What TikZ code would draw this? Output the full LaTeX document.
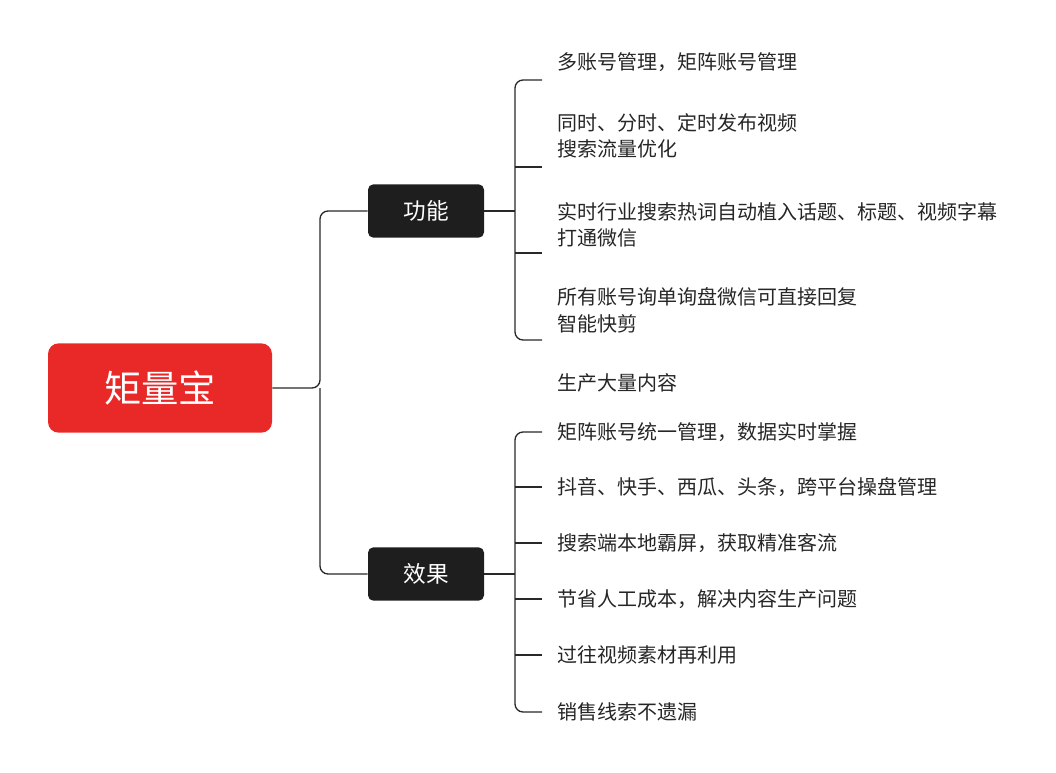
\documentclass[tikz,border=0pt]{standalone}
\usepackage{fontspec}
\setmainfont{Noto Sans CJK SC}
\usetikzlibrary{positioning}
\definecolor{rootred}{RGB}{233,40,40}
\definecolor{boxdark}{RGB}{30,30,30}
\definecolor{linegray}{RGB}{40,40,40}
\tikzset{
  rootbox/.style={draw=none,fill=rootred,rounded corners=8pt,minimum width=168pt,minimum height=67pt,text=white,font=\fontsize{28}{30}\selectfont},
  catbox/.style={draw=none,fill=boxdark,rounded corners=4pt,minimum width=87pt,minimum height=40pt,text=white,font=\fontsize{17}{19}\selectfont},
  item/.style={anchor=west,inner sep=0.75pt,align=left,text=black!85,font=\fontsize{15}{20}\selectfont},
  branch/.style={draw=linegray,line width=1pt,rounded corners=6pt}
}
\begin{document}
\begin{tikzpicture}[x=0.75pt,y=0.75pt,yscale=-1,xscale=1]
\useasboundingbox (0,0) rectangle (1056,772);

% main nodes
\node[rootbox] (root) at (160,388) {矩量宝};
\node[catbox] (func) at (426,211) {功能};
\node[catbox] (effect) at (426,574) {效果};

% root to categories
\coordinate (split) at (320,388);
\draw[branch] (root.east) -- (split) |- (func.west);
\draw[branch] (split) |- (effect.west);

% function items
\node[item] (f1) at (556,62) {多账号管理，矩阵账号管理};
\node[item] (f2) at (556,136) {同时、分时、定时发布视频\\搜索流量优化};
\node[item] (f3) at (556,225) {实时行业搜索热词自动植入话题、标题、视频字幕\\打通微信};
\node[item] (f4) at (556,310) {所有账号询单询盘微信可直接回复\\智能快剪};
\node[item] (f5) at (556,383) {生产大量内容};

\coordinate (fj) at (515,211);
\draw[branch] (func.east) -- (fj);
\draw[branch] (542,80) -| (515,211) |- (542,340);
\foreach \y in {167,253} \draw[branch] (515,\y) -- (542,\y);

% effect items
\node[item] (e1) at (556,432) {矩阵账号统一管理，数据实时掌握};
\node[item] (e2) at (556,487) {抖音、快手、西瓜、头条，跨平台操盘管理};
\node[item] (e3) at (556,543) {搜索端本地霸屏，获取精准客流};
\node[item] (e4) at (556,599) {节省人工成本，解决内容生产问题};
\node[item] (e5) at (556,655) {过往视频素材再利用};
\node[item] (e6) at (556,712) {销售线索不遗漏};

\coordinate (ej) at (515,574);
\draw[branch] (effect.east) -- (ej);
\draw[branch] (542,432) -| (515,574) |- (542,712);
\foreach \y in {487,543,599,655} \draw[branch] (515,\y) -- (542,\y);
\end{tikzpicture}
\end{document}
